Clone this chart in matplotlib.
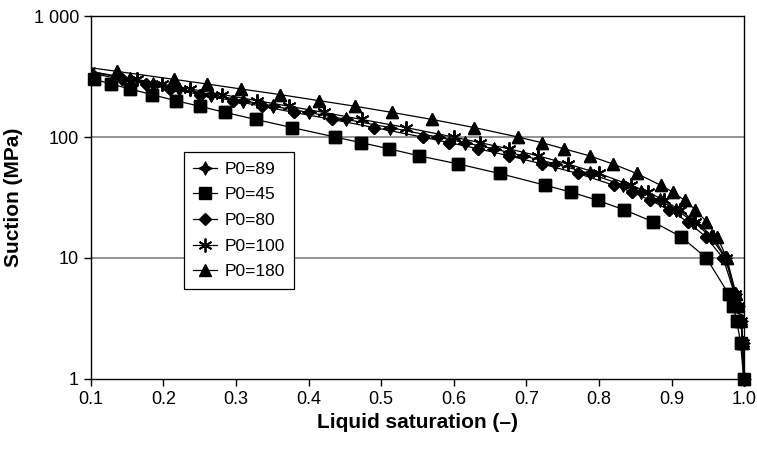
import matplotlib
matplotlib.use("Agg")
import matplotlib.pyplot as plt
import matplotlib.ticker as ticker

plt.rcParams['font.family'] = ['Liberation Sans', 'DejaVu Sans']

# suction levels (MPa), shared by every curve
suction = [400, 350, 300, 275, 250, 225, 200, 180, 160, 140, 120, 100, 90, 80, 70,
           60, 50, 40, 35, 30, 25, 20, 15, 10, 5, 4, 3, 2, 1]

# liquid saturation for each P0
sat_p89 = [0.05, 0.097, 0.154, 0.186, 0.222, 0.265, 0.310, 0.351, 0.400, 0.452, 0.512,
           0.578, 0.615, 0.655, 0.696, 0.740, 0.787, 0.833, 0.858, 0.8835, 0.9066,
           0.930, 0.954, 0.974, 0.988, 0.992, 0.996, 0.998, 0.9995]
sat_p45 = [0.03, 0.065, 0.105, 0.128, 0.154, 0.184, 0.217, 0.250, 0.285, 0.327, 0.377,
           0.437, 0.472, 0.511, 0.552, 0.606, 0.663, 0.726, 0.762, 0.798, 0.835,
           0.874, 0.913, 0.948, 0.979, 0.985, 0.990, 0.995, 0.9995]
sat_p80 = [0.04, 0.088, 0.143, 0.176, 0.209, 0.2506, 0.296, 0.336, 0.380, 0.4325, 0.490,
           0.557, 0.594, 0.634, 0.676, 0.7215, 0.771, 0.8206, 0.846, 0.871, 0.8965,
           0.922, 0.947, 0.971, 0.987, 0.991, 0.995, 0.998, 0.9995]
sat_p100 = [0.05, 0.098, 0.163, 0.198, 0.237, 0.281, 0.329, 0.373, 0.421, 0.473, 0.534,
            0.600, 0.636, 0.676, 0.716, 0.757, 0.800, 0.844, 0.8675, 0.890, 0.911,
            0.933, 0.957, 0.975, 0.988, 0.992, 0.996, 0.998, 0.9995]
sat_p180 = [0.066, 0.1355, 0.215, 0.260, 0.307, 0.360, 0.415, 0.464, 0.515, 0.570, 0.628,
            0.689, 0.721, 0.752, 0.787, 0.819, 0.852, 0.885, 0.902, 0.918, 0.933,
            0.948, 0.963, 0.976, 0.989, 0.992, 0.996, 0.998, 0.9995]

series = [
    (sat_p89, 'P0=89', dict(marker=(4, 1, 0), ms=10, mew=0.6)),
    (sat_p45, 'P0=45', dict(marker='s', ms=8)),
    (sat_p80, 'P0=80', dict(marker='D', ms=6.5)),
    (sat_p100, 'P0=100', dict(marker=(6, 2, 0), ms=10, mew=1.3)),
    (sat_p180, 'P0=180', dict(marker='^', ms=9)),
]

fig = plt.figure(figsize=(7.57, 4.5), dpi=100)
ax = fig.add_axes([0.120, 0.158, 0.863, 0.806])

for sat, lab, mk in series:
    ax.plot(sat, suction, color='k', lw=0.9, label=lab, **mk)
    # markers inside the x range, not clipped at the right edge
    xs = [x for x in sat if x >= 0.1]
    ys = [y for x, y in zip(sat, suction) if x >= 0.1]
    ax.plot(xs, ys, color='k', ls='none', clip_on=False, **mk)

ax.set_yscale('log')
ax.set_xlim(0.1, 1.0)
ax.set_ylim(1, 1000)

ax.yaxis.set_major_locator(ticker.FixedLocator([1, 10, 100, 1000]))
ax.yaxis.set_major_formatter(ticker.FixedFormatter(['1', '10', '100', '1 000']))
ax.yaxis.set_minor_locator(ticker.NullLocator())
ax.set_xticks([0.1, 0.2, 0.3, 0.4, 0.5, 0.6, 0.7, 0.8, 0.9, 1.0])
ax.xaxis.set_major_formatter(ticker.FormatStrFormatter('%.1f'))

for s in [10, 100]:
    ax.axhline(s, color='#808080', lw=1.2, zorder=0)

ax.tick_params(direction='out', length=5, width=1, labelsize=13, colors='k')
for sp in ax.spines.values():
    sp.set_linewidth(1)
    sp.set_color('k')

ax.set_xlabel('Liquid saturation (–)', fontsize=15, fontweight='bold', labelpad=4)
ax.set_ylabel('Suction (MPa)', fontsize=15, fontweight='bold', labelpad=8)

leg = ax.legend(loc='upper left', bbox_to_anchor=(0.142, 0.625), fontsize=12.5,
                frameon=True, fancybox=False, edgecolor='k', framealpha=1,
                borderaxespad=0, handlelength=1.4, handletextpad=0.4,
                labelspacing=0.6, borderpad=0.55)
leg.get_frame().set_linewidth(0.9)

fig.savefig('out.png', dpi=100)
